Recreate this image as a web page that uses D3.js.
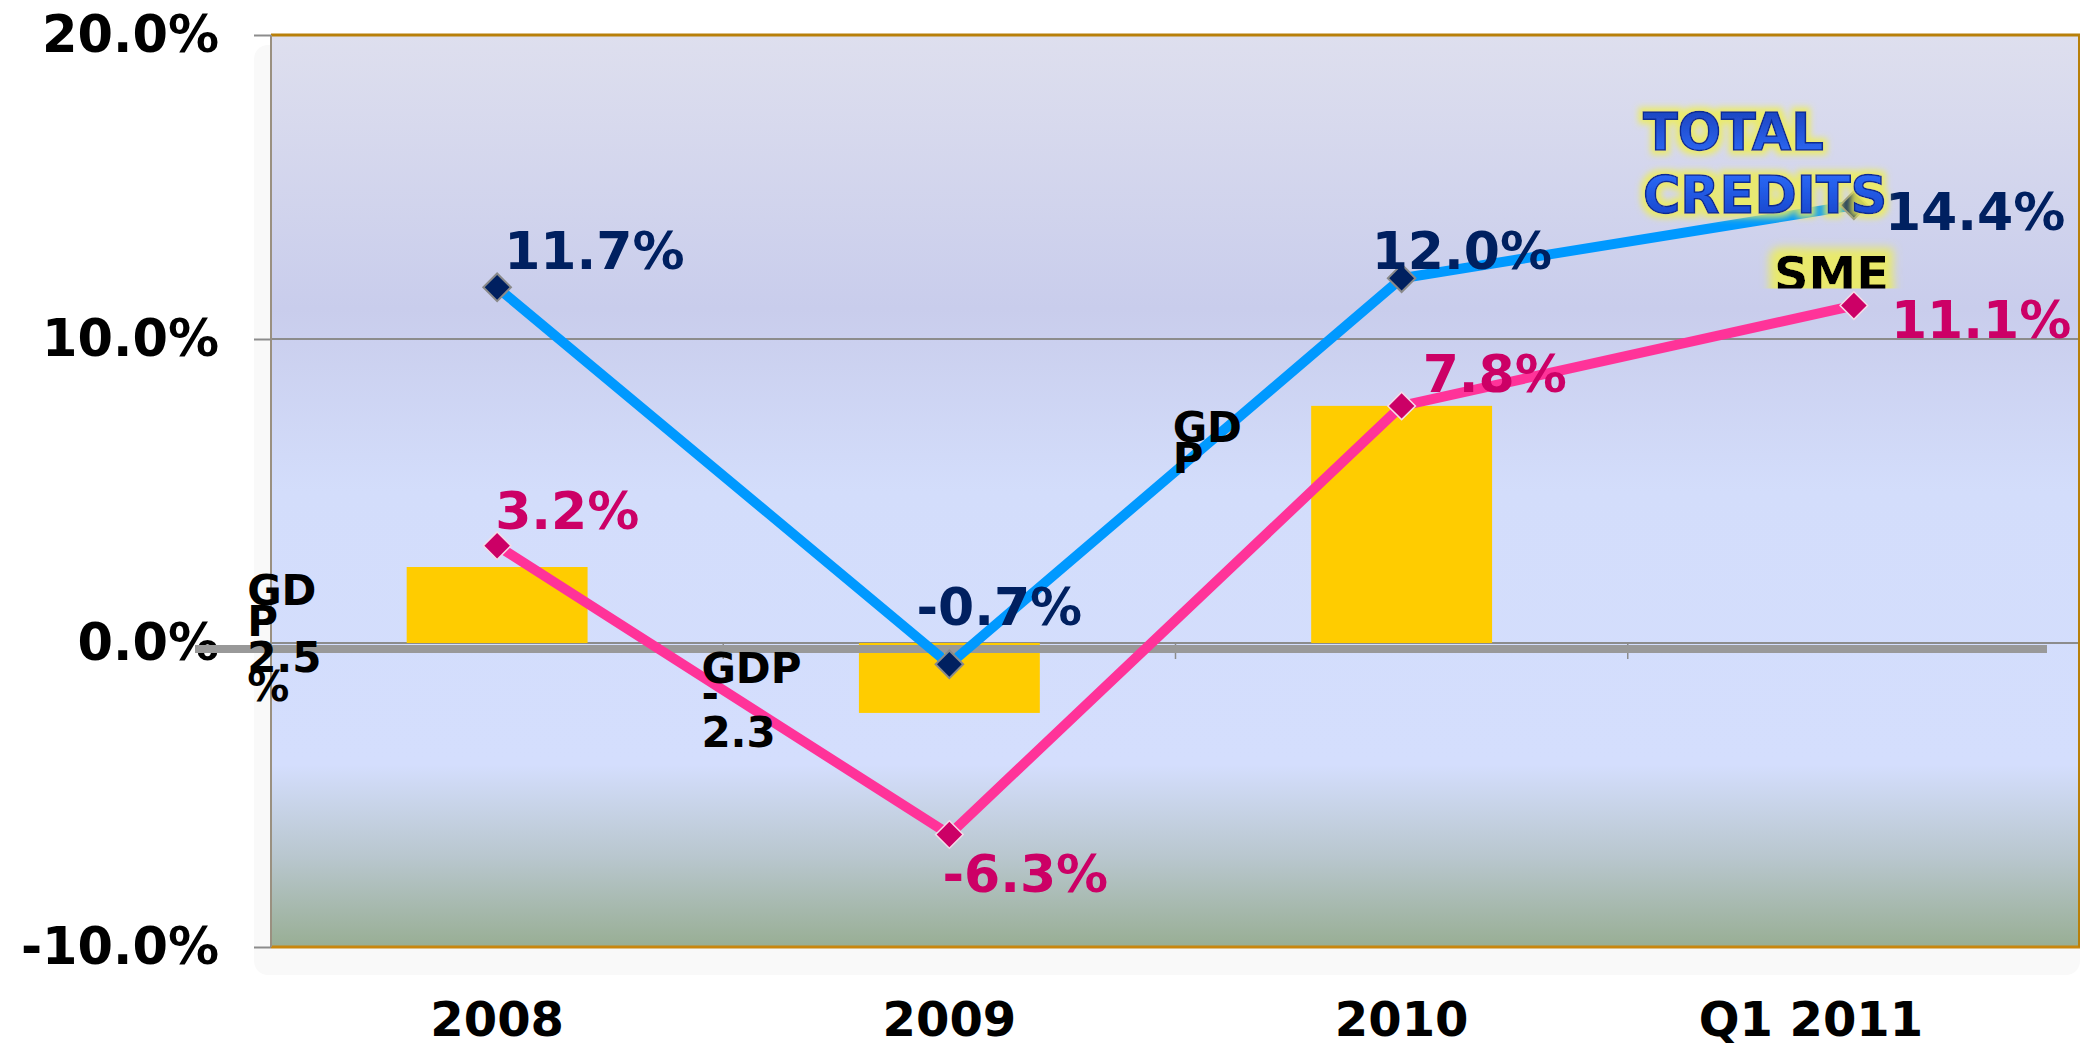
<!DOCTYPE html>
<html>
<head>
<meta charset="utf-8">
<script src="https://cdn.jsdelivr.net/npm/d3@7"></script>
<style>
  body { margin: 0; background: #fff; }
  svg { display: block; }
</style>
</head>
<body>
<script>
// chart values
const categories = ['2008', '2009', '2010', 'Q1 2011'];
const totalCredits = [11.7, -0.7, 12.0, 14.4];
const smeCredits = [3.2, -6.3, 7.8, 11.1];
const gdpGrowth = [2.5, -2.3, 7.8, null];
const yTicks = [-10, 0, 10, 20];
const gdpLabelLines = [['GD', 'P', '2.5', '%'], ['GDP', '-', '2.3'], ['GD', 'P'], []];
const totalTitle = ['TOTAL', 'CREDITS'];
const smeTitle = 'SME';

// layout (kept apart from the data)
const W = 2080, H = 1052;
const plot = {left: 271, right: 2080, top: 35, bottom: 947};
const FONT = '"DejaVu Sans", Verdana, sans-serif';
const navy = '#002060', magenta = '#cc0066';

// label offsets from their marker: [dx to text start, dy to baseline]
const totalLabelOffsets = [[7, -18], [-33, -39], [-30, -9], [31, 25]];
const smeLabelOffsets = [[-2, -17], [-7, 57], [21, -14], [37, 32]];
// GDP text boxes: dx from category centre, baselines relative to the zero line
const gdpLabelBoxes = [
  {dx: -250, lines: [-38, -7, 29, 58]},
  {dx: -248, lines: [40, 65, 104]},
  {dx: -229, lines: [-201, -170]},
  null
];
// the last category label sits a little left of its band centre on the slide
const xLabelShift = [0, 0, 0, -43];

const svg = d3.select('body').append('svg')
  .attr('width', W)
  .attr('height', H);

const x = d3.scaleBand()
  .domain(categories)
  .range([plot.left, plot.right]);
const y = d3.scaleLinear()
  .domain([-10, 20])
  .range([plot.bottom, plot.top]);

const cx = c => x(c) + x.bandwidth() / 2;
const y0 = y(0);

// gradients and filters
const defs = svg.append('defs');
const bg = defs.append('linearGradient')
  .attr('id', 'plotBg')
  .attr('x1', 0).attr('y1', 0).attr('x2', 0).attr('y2', 1);
[[0, '#dedfee'], [0.3, '#c9cdec'], [0.5, '#d3ddfb'], [0.8, '#d4defd'], [0.9, '#b9c7cf'], [1, '#98ae94']]
  .forEach(s => bg.append('stop').attr('offset', s[0]).attr('stop-color', s[1]));

const tb = defs.append('linearGradient')
  .attr('id', 'titleBlue')
  .attr('x1', 0).attr('y1', 0).attr('x2', 0).attr('y2', 1);
[[0, '#1b3fb8'], [0.5, '#2f70ff'], [1, '#1440c4']]
  .forEach(s => tb.append('stop').attr('offset', s[0]).attr('stop-color', s[1]));

function addGlow(id, radius, blur) {
  const f = defs.append('filter').attr('id', id)
    .attr('x', '-20%').attr('y', '-40%').attr('width', '140%').attr('height', '180%');
  f.append('feMorphology').attr('in', 'SourceAlpha').attr('operator', 'dilate').attr('radius', radius).attr('result', 'd');
  f.append('feGaussianBlur').attr('in', 'd').attr('stdDeviation', blur).attr('result', 'b');
  f.append('feFlood').attr('flood-color', '#eeee55').attr('flood-opacity', 0.85);
  f.append('feComposite').attr('in2', 'b').attr('operator', 'in').attr('result', 'g');
  const m = f.append('feMerge');
  m.append('feMergeNode').attr('in', 'g');
  m.append('feMergeNode').attr('in', 'SourceGraphic');
}
addGlow('glow', 4, 3);
addGlow('glowBox', 8, 5);

defs.append('clipPath').attr('id', 'smeClip')
  .append('rect').attr('x', 0).attr('y', 0).attr('width', W).attr('height', y(smeCredits[3]) - 17);

// soft shadow behind the plot area
svg.append('rect')
  .attr('x', plot.left - 17).attr('y', plot.top + 10)
  .attr('width', plot.right - plot.left + 17).attr('height', plot.bottom - plot.top + 18)
  .attr('rx', 14)
  .attr('fill', '#f9f9f9');

// plot background
svg.append('rect')
  .attr('x', plot.left).attr('y', plot.top)
  .attr('width', plot.right - plot.left).attr('height', plot.bottom - plot.top)
  .attr('fill', 'url(#plotBg)');

// gridlines
svg.append('g')
  .selectAll('line')
  .data([10, 0])
  .join('line')
  .attr('x1', plot.left).attr('x2', plot.right)
  .attr('y1', d => y(d)).attr('y2', d => y(d))
  .attr('stroke', '#8c8c8c')
  .attr('stroke-width', 2);

// frame: orange top/bottom/right, grey left
svg.append('line')
  .attr('x1', plot.left).attr('x2', plot.right).attr('y1', plot.top).attr('y2', plot.top)
  .attr('stroke', '#b8800a').attr('stroke-width', 3);
svg.append('line')
  .attr('x1', plot.left).attr('x2', plot.right).attr('y1', plot.bottom).attr('y2', plot.bottom)
  .attr('stroke', '#c8860e').attr('stroke-width', 3);
svg.append('line')
  .attr('x1', plot.right - 1).attr('x2', plot.right - 1).attr('y1', plot.top).attr('y2', plot.bottom)
  .attr('stroke', '#b8800a').attr('stroke-width', 2);

// y axis
const yAxis = svg.append('g')
  .attr('transform', `translate(${plot.left},0)`)
  .call(d3.axisLeft(y).tickValues(yTicks).tickSize(17).tickPadding(35).tickFormat(d => d.toFixed(1) + '%'));
yAxis.select('.domain')
  .attr('stroke', '#9a9080').attr('stroke-width', 2)
  .attr('d', `M0,${plot.top}V${plot.bottom}`);
yAxis.selectAll('.tick line').attr('stroke', '#8c8c8c').attr('stroke-width', 2);
yAxis.selectAll('.tick text')
  .attr('fill', '#000')
  .attr('font-family', FONT)
  .attr('font-weight', 'bold')
  .attr('font-size', 51);

// category ticks on the zero line
svg.append('g')
  .selectAll('line')
  .data(categories.slice(1))
  .join('line')
  .attr('x1', d => x(d)).attr('x2', d => x(d))
  .attr('y1', y0).attr('y2', y0 + 16)
  .attr('stroke', '#8c8c8c')
  .attr('stroke-width', 1.5);

// x labels at the bottom
const xAxis = svg.append('g')
  .attr('transform', `translate(0,${plot.bottom + 89})`)
  .call(d3.axisBottom(x).tickSize(0).tickPadding(0));
xAxis.select('.domain').remove();
xAxis.selectAll('.tick text')
  .attr('dy', 0)
  .attr('x', (d, i) => xLabelShift[i])
  .attr('fill', '#000')
  .attr('font-family', FONT)
  .attr('font-weight', 'bold')
  .attr('font-size', 48);

// GDP bars
const barW = x.bandwidth() * 0.4;
svg.append('g')
  .selectAll('rect')
  .data(categories.map((c, i) => ({c, v: gdpGrowth[i]})).filter(d => d.v !== null))
  .join('rect')
  .attr('x', d => cx(d.c) - barW / 2)
  .attr('width', barW)
  .attr('y', d => y(Math.max(0, d.v)))
  .attr('height', d => Math.abs(y(d.v) - y0))
  .attr('fill', '#ffcc00');

// thick grey bar drawn across the zero line
svg.append('rect')
  .attr('x', plot.left - 76).attr('y', y0 + 2)
  .attr('width', plot.right - plot.left + 76 - 33).attr('height', 8)
  .attr('fill', '#999999');

// lines
const line = d3.line()
  .x((d, i) => cx(categories[i]))
  .y(d => y(d));

svg.append('path')
  .datum(totalCredits)
  .attr('d', line)
  .attr('fill', 'none')
  .attr('stroke', '#0099ff')
  .attr('stroke-width', 10);

svg.append('path')
  .datum(smeCredits)
  .attr('d', line)
  .attr('fill', 'none')
  .attr('stroke', '#ff3399')
  .attr('stroke-width', 10);

// diamond markers
const diamond = d3.symbol(d3.symbolSquare, 380);
svg.append('g')
  .selectAll('path')
  .data(totalCredits)
  .join('path')
  .attr('d', diamond)
  .attr('transform', (d, i) => `translate(${cx(categories[i])},${y(d)}) rotate(45)`)
  .attr('fill', navy)
  .attr('stroke', '#8a8a8a')
  .attr('stroke-width', 2);

svg.append('g')
  .selectAll('path')
  .data(smeCredits)
  .join('path')
  .attr('d', diamond)
  .attr('transform', (d, i) => `translate(${cx(categories[i])},${y(d)}) rotate(45)`)
  .attr('fill', magenta)
  .attr('stroke', '#f4dce8')
  .attr('stroke-width', 1.5);

// value labels
const fmt = d => d.toFixed(1) + '%';
svg.append('g')
  .selectAll('text')
  .data(totalCredits)
  .join('text')
  .attr('x', (d, i) => cx(categories[i]) + totalLabelOffsets[i][0])
  .attr('y', (d, i) => y(d) + totalLabelOffsets[i][1])
  .attr('font-family', FONT)
  .attr('font-weight', 'bold')
  .attr('font-size', 52)
  .attr('fill', navy)
  .text(fmt);

svg.append('g')
  .selectAll('text')
  .data(smeCredits)
  .join('text')
  .attr('x', (d, i) => cx(categories[i]) + smeLabelOffsets[i][0])
  .attr('y', (d, i) => y(d) + smeLabelOffsets[i][1])
  .attr('font-family', FONT)
  .attr('font-weight', 'bold')
  .attr('font-size', 52)
  .attr('fill', magenta)
  .text(fmt);

// GDP text boxes (wrapped tight like the slide)
categories.forEach((c, i) => {
  const box = gdpLabelBoxes[i];
  if (!box) return;
  const t = svg.append('text')
    .attr('font-family', FONT)
    .attr('font-weight', 'bold')
    .attr('font-size', 42)
    .attr('fill', '#000');
  gdpLabelLines[i].forEach((s, k) => {
    t.append('tspan')
      .attr('x', cx(c) + box.dx)
      .attr('y', y0 + box.lines[k])
      .text(s);
  });
});

// series titles next to the last points
const lastX = cx(categories[3]);
const title = svg.append('text')
  .attr('font-family', FONT)
  .attr('font-weight', 'bold')
  .attr('font-size', 51)
  .attr('fill', 'url(#titleBlue)')
  .attr('stroke', '#0c2c90')
  .attr('stroke-width', 1.5)
  .attr('filter', 'url(#glow)');
totalTitle.forEach((s, k) => {
  title.append('tspan')
    .attr('x', lastX - 211)
    .attr('y', y(totalCredits[3]) + (k === 0 ? -55 : 8))
    .text(s);
});

svg.append('g')
  .attr('clip-path', 'url(#smeClip)')
  .append('text')
  .attr('x', lastX - 80)
  .attr('y', y(smeCredits[3]) - 15)
  .attr('font-family', FONT)
  .attr('font-weight', 'bold')
  .attr('font-size', 48)
  .attr('fill', '#000')
  .attr('filter', 'url(#glowBox)')
  .text(smeTitle);
</script>
</body>
</html>
